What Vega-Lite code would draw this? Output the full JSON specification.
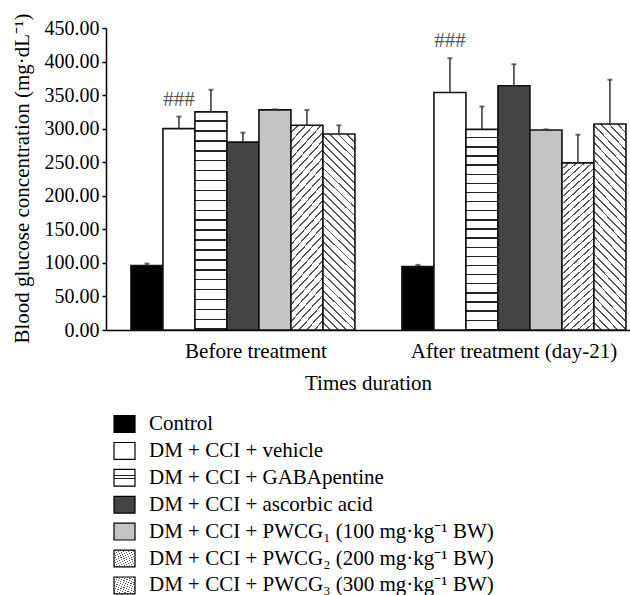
{
  "$schema": "https://vega.github.io/schema/vega-lite/v6.json",
  "width": 524,
  "height": 302,
  "autosize": "none",
  "padding": {"left": 106, "top": 28, "right": 0, "bottom": 265},
  "background": "white",
  "config": {"font": "Liberation Serif", "view": {"stroke": null}},
  "params": [
    {"name": "hstops", "expr": "[{offset:0,color:'#fff'},{offset:0.0386,color:'#fff'},{offset:0.0386,color:'#222'},{offset:0.0455,color:'#222'},{offset:0.0455,color:'#fff'},{offset:0.0841,color:'#fff'},{offset:0.0841,color:'#222'},{offset:0.0909,color:'#222'},{offset:0.0909,color:'#fff'},{offset:0.1295,color:'#fff'},{offset:0.1295,color:'#222'},{offset:0.1364,color:'#222'},{offset:0.1364,color:'#fff'},{offset:0.175,color:'#fff'},{offset:0.175,color:'#222'},{offset:0.1818,color:'#222'},{offset:0.1818,color:'#fff'},{offset:0.2204,color:'#fff'},{offset:0.2204,color:'#222'},{offset:0.2273,color:'#222'},{offset:0.2273,color:'#fff'},{offset:0.2659,color:'#fff'},{offset:0.2659,color:'#222'},{offset:0.2727,color:'#222'},{offset:0.2727,color:'#fff'},{offset:0.3113,color:'#fff'},{offset:0.3113,color:'#222'},{offset:0.3182,color:'#222'},{offset:0.3182,color:'#fff'},{offset:0.3568,color:'#fff'},{offset:0.3568,color:'#222'},{offset:0.3636,color:'#222'},{offset:0.3636,color:'#fff'},{offset:0.4022,color:'#fff'},{offset:0.4022,color:'#222'},{offset:0.4091,color:'#222'},{offset:0.4091,color:'#fff'},{offset:0.4477,color:'#fff'},{offset:0.4477,color:'#222'},{offset:0.4545,color:'#222'},{offset:0.4545,color:'#fff'},{offset:0.4931,color:'#fff'},{offset:0.4931,color:'#222'},{offset:0.5,color:'#222'},{offset:0.5,color:'#fff'},{offset:0.5386,color:'#fff'},{offset:0.5386,color:'#222'},{offset:0.5455,color:'#222'},{offset:0.5455,color:'#fff'},{offset:0.5841,color:'#fff'},{offset:0.5841,color:'#222'},{offset:0.5909,color:'#222'},{offset:0.5909,color:'#fff'},{offset:0.6295,color:'#fff'},{offset:0.6295,color:'#222'},{offset:0.6364,color:'#222'},{offset:0.6364,color:'#fff'},{offset:0.675,color:'#fff'},{offset:0.675,color:'#222'},{offset:0.6818,color:'#222'},{offset:0.6818,color:'#fff'},{offset:0.7204,color:'#fff'},{offset:0.7204,color:'#222'},{offset:0.7273,color:'#222'},{offset:0.7273,color:'#fff'},{offset:0.7659,color:'#fff'},{offset:0.7659,color:'#222'},{offset:0.7727,color:'#222'},{offset:0.7727,color:'#fff'},{offset:0.8113,color:'#fff'},{offset:0.8113,color:'#222'},{offset:0.8182,color:'#222'},{offset:0.8182,color:'#fff'},{offset:0.8568,color:'#fff'},{offset:0.8568,color:'#222'},{offset:0.8636,color:'#222'},{offset:0.8636,color:'#fff'},{offset:0.9022,color:'#fff'},{offset:0.9022,color:'#222'},{offset:0.9091,color:'#222'},{offset:0.9091,color:'#fff'},{offset:0.9477,color:'#fff'},{offset:0.9477,color:'#222'},{offset:0.9545,color:'#222'},{offset:0.9545,color:'#fff'},{offset:0.9931,color:'#fff'},{offset:0.9931,color:'#222'},{offset:1,color:'#222'}]"},
    {"name": "dstops", "expr": "[{offset:0,color:'#fff'},{offset:0.0279,color:'#fff'},{offset:0.0279,color:'#555'},{offset:0.0357,color:'#555'},{offset:0.0357,color:'#fff'},{offset:0.0636,color:'#fff'},{offset:0.0636,color:'#555'},{offset:0.0714,color:'#555'},{offset:0.0714,color:'#fff'},{offset:0.0993,color:'#fff'},{offset:0.0993,color:'#555'},{offset:0.1071,color:'#555'},{offset:0.1071,color:'#fff'},{offset:0.135,color:'#fff'},{offset:0.135,color:'#555'},{offset:0.1429,color:'#555'},{offset:0.1429,color:'#fff'},{offset:0.1707,color:'#fff'},{offset:0.1707,color:'#555'},{offset:0.1786,color:'#555'},{offset:0.1786,color:'#fff'},{offset:0.2064,color:'#fff'},{offset:0.2064,color:'#555'},{offset:0.2143,color:'#555'},{offset:0.2143,color:'#fff'},{offset:0.2421,color:'#fff'},{offset:0.2421,color:'#555'},{offset:0.25,color:'#555'},{offset:0.25,color:'#fff'},{offset:0.2779,color:'#fff'},{offset:0.2779,color:'#555'},{offset:0.2857,color:'#555'},{offset:0.2857,color:'#fff'},{offset:0.3136,color:'#fff'},{offset:0.3136,color:'#555'},{offset:0.3214,color:'#555'},{offset:0.3214,color:'#fff'},{offset:0.3493,color:'#fff'},{offset:0.3493,color:'#555'},{offset:0.3571,color:'#555'},{offset:0.3571,color:'#fff'},{offset:0.385,color:'#fff'},{offset:0.385,color:'#555'},{offset:0.3929,color:'#555'},{offset:0.3929,color:'#fff'},{offset:0.4207,color:'#fff'},{offset:0.4207,color:'#555'},{offset:0.4286,color:'#555'},{offset:0.4286,color:'#fff'},{offset:0.4564,color:'#fff'},{offset:0.4564,color:'#555'},{offset:0.4643,color:'#555'},{offset:0.4643,color:'#fff'},{offset:0.4921,color:'#fff'},{offset:0.4921,color:'#555'},{offset:0.5,color:'#555'},{offset:0.5,color:'#fff'},{offset:0.5279,color:'#fff'},{offset:0.5279,color:'#555'},{offset:0.5357,color:'#555'},{offset:0.5357,color:'#fff'},{offset:0.5636,color:'#fff'},{offset:0.5636,color:'#555'},{offset:0.5714,color:'#555'},{offset:0.5714,color:'#fff'},{offset:0.5993,color:'#fff'},{offset:0.5993,color:'#555'},{offset:0.6071,color:'#555'},{offset:0.6071,color:'#fff'},{offset:0.635,color:'#fff'},{offset:0.635,color:'#555'},{offset:0.6429,color:'#555'},{offset:0.6429,color:'#fff'},{offset:0.6707,color:'#fff'},{offset:0.6707,color:'#555'},{offset:0.6786,color:'#555'},{offset:0.6786,color:'#fff'},{offset:0.7064,color:'#fff'},{offset:0.7064,color:'#555'},{offset:0.7143,color:'#555'},{offset:0.7143,color:'#fff'},{offset:0.7421,color:'#fff'},{offset:0.7421,color:'#555'},{offset:0.75,color:'#555'},{offset:0.75,color:'#fff'},{offset:0.7779,color:'#fff'},{offset:0.7779,color:'#555'},{offset:0.7857,color:'#555'},{offset:0.7857,color:'#fff'},{offset:0.8136,color:'#fff'},{offset:0.8136,color:'#555'},{offset:0.8214,color:'#555'},{offset:0.8214,color:'#fff'},{offset:0.8493,color:'#fff'},{offset:0.8493,color:'#555'},{offset:0.8571,color:'#555'},{offset:0.8571,color:'#fff'},{offset:0.885,color:'#fff'},{offset:0.885,color:'#555'},{offset:0.8929,color:'#555'},{offset:0.8929,color:'#fff'},{offset:0.9207,color:'#fff'},{offset:0.9207,color:'#555'},{offset:0.9286,color:'#555'},{offset:0.9286,color:'#fff'},{offset:0.9564,color:'#fff'},{offset:0.9564,color:'#555'},{offset:0.9643,color:'#555'},{offset:0.9643,color:'#fff'},{offset:0.9921,color:'#fff'},{offset:0.9921,color:'#555'},{offset:1,color:'#555'}]"},
    {"name": "lstops", "expr": "[{offset:0,color:'#fff'},{offset:0.16,color:'#fff'},{offset:0.16,color:'#444'},{offset:0.21,color:'#444'},{offset:0.21,color:'#fff'},{offset:0.36,color:'#fff'},{offset:0.36,color:'#444'},{offset:0.41,color:'#444'},{offset:0.41,color:'#fff'},{offset:0.56,color:'#fff'},{offset:0.56,color:'#444'},{offset:0.61,color:'#444'},{offset:0.61,color:'#fff'},{offset:0.76,color:'#fff'},{offset:0.76,color:'#444'},{offset:0.81,color:'#444'},{offset:0.81,color:'#fff'},{offset:1,color:'#fff'}]"}
  ],
  "data": {
    "values": [
      {"time": "Before treatment", "series": "Control", "value": 96, "upper": 99, "label": ""},
      {"time": "Before treatment", "series": "DM + CCI + vehicle", "value": 300, "upper": 318, "label": "###"},
      {"time": "Before treatment", "series": "DM + CCI + GABApentine", "value": 325, "upper": 358, "label": ""},
      {"time": "Before treatment", "series": "DM + CCI + ascorbic acid", "value": 280, "upper": 294, "label": ""},
      {"time": "Before treatment", "series": "DM + CCI + PWCG₁ (100 mg·kg⁻¹ BW)", "value": 328, "upper": 329, "label": ""},
      {"time": "Before treatment", "series": "DM + CCI + PWCG₂ (200 mg·kg⁻¹ BW)", "value": 305, "upper": 328, "label": ""},
      {"time": "Before treatment", "series": "DM + CCI + PWCG₃ (300 mg·kg⁻¹ BW)", "value": 292, "upper": 305, "label": ""},
      {"time": "After treatment (day-21)", "series": "Control", "value": 94.5, "upper": 97, "label": ""},
      {"time": "After treatment (day-21)", "series": "DM + CCI + vehicle", "value": 354, "upper": 405, "label": "###"},
      {"time": "After treatment (day-21)", "series": "DM + CCI + GABApentine", "value": 299, "upper": 333, "label": ""},
      {"time": "After treatment (day-21)", "series": "DM + CCI + ascorbic acid", "value": 364, "upper": 396, "label": ""},
      {"time": "After treatment (day-21)", "series": "DM + CCI + PWCG₁ (100 mg·kg⁻¹ BW)", "value": 298, "upper": 299, "label": ""},
      {"time": "After treatment (day-21)", "series": "DM + CCI + PWCG₂ (200 mg·kg⁻¹ BW)", "value": 249, "upper": 291, "label": ""},
      {"time": "After treatment (day-21)", "series": "DM + CCI + PWCG₃ (300 mg·kg⁻¹ BW)", "value": 307, "upper": 373, "label": ""}
    ]
  },
  "resolve": {"axis": {"y": "independent"}},
  "encoding": {
    "x": {
      "field": "time",
      "type": "nominal",
      "sort": ["Before treatment", "After treatment (day-21)"],
      "scale": {"paddingInner": 0.1734, "paddingOuter": 0.0535, "align": 0.86},
      "axis": {
        "title": "Times duration",
        "ticks": false,
        "labelAngle": 0,
        "labelFont": "Liberation Serif",
        "labelFontSize": 21,
        "labelColor": "black",
        "labelLimit": 400,
        "labelPadding": 10,
        "labelOffset": {"condition": {"test": "datum.value === 'Before treatment'", "value": 13}, "value": 0},
        "domainColor": "black",
        "domainWidth": 1.5,
        "titleFont": "Liberation Serif",
        "titleFontSize": 21,
        "titleFontWeight": "normal",
        "titleColor": "black",
        "titleBaseline": "alphabetic",
        "titleY": 59
      }
    },
    "xOffset": {
      "field": "series",
      "type": "nominal",
      "sort": ["Control", "DM + CCI + vehicle", "DM + CCI + GABApentine", "DM + CCI + ascorbic acid", "DM + CCI + PWCG₁ (100 mg·kg⁻¹ BW)", "DM + CCI + PWCG₂ (200 mg·kg⁻¹ BW)", "DM + CCI + PWCG₃ (300 mg·kg⁻¹ BW)"],
      "scale": {"paddingInner": 0, "paddingOuter": 0}
    }
  },
  "layer": [
    {
      "mark": {"type": "bar", "stroke": "#111", "strokeWidth": 1.6},
      "encoding": {
        "y": {
          "field": "value",
          "type": "quantitative",
          "scale": {"domain": [0, 450], "nice": false},
          "axis": {
            "title": "Blood glucose concentration (mg·dL⁻¹)",
            "values": [0, 50, 100, 150, 200, 250, 300, 350, 400, 450],
            "format": ".2f",
            "grid": false,
            "labelOverlap": false,
            "labelFont": "Liberation Serif",
            "labelFontSize": 20,
            "labelColor": "black",
            "labelPadding": 3,
            "tickSize": 4,
            "tickColor": "black",
            "tickWidth": 1.5,
            "domainColor": "black",
            "domainWidth": 1.5,
            "titleFont": "Liberation Serif",
            "titleFontSize": 21,
            "titleFontWeight": "normal",
            "titleColor": "black",
            "titleAngle": -90,
            "titleAlign": "left",
            "titleBaseline": "alphabetic",
            "titleX": -78,
            "titleY": 315
          }
        },
        "fill": {
          "field": "series",
          "type": "nominal",
          "scale": {
            "domain": ["Control", "DM + CCI + vehicle", "DM + CCI + GABApentine", "DM + CCI + ascorbic acid", "DM + CCI + PWCG₁ (100 mg·kg⁻¹ BW)", "DM + CCI + PWCG₂ (200 mg·kg⁻¹ BW)", "DM + CCI + PWCG₃ (300 mg·kg⁻¹ BW)"],
            "range": [
              "#000000",
              "#ffffff",
              {"expr": "{gradient:'linear',x1:0,y1:0,x2:0,y2:1,stops:hstops}"},
              "#444444",
              "#c4c4c4",
              {"expr": "{gradient:'linear',x1:0,y1:0,x2:0.196,y2:1.139,stops:dstops}"},
              {"expr": "{gradient:'linear',x1:0,y1:1,x2:0.183,y2:-0.134,stops:dstops}"}
            ]
          },
          "legend": {
            "title": null,
            "orient": "none",
            "legendX": 7,
            "legendY": 384.5,
            "padding": 0,
            "symbolType": "M-1,-0.8H1V0.8H-1Z",
            "symbolSize": 441,
            "symbolStrokeColor": "black",
            "symbolStrokeWidth": 1.2,
            "labelFont": "Liberation Serif",
            "labelFontSize": 21,
            "labelColor": "black",
            "labelOffset": 13,
            "labelLimit": 0,
            "rowPadding": 3.9,
            "encode": {
              "symbols": {
                "update": {
                  "stroke": {"value": "black"},
                  "strokeWidth": {"value": 1.2},
                  "fill": [
                    {"test": "datum.value === 'DM + CCI + GABApentine'", "signal": "{gradient:'linear',x1:0,y1:0,x2:0,y2:1,stops:lstops}"},
                    {"test": "indexof(datum.value, '200') >= 0", "signal": "{gradient:'linear',x1:0,y1:0,x2:1.098,y2:0.878,stops:lstops}"},
                    {"test": "indexof(datum.value, '300') >= 0", "signal": "{gradient:'linear',x1:0,y1:1,x2:1.098,y2:0.122,stops:lstops}"},
                    {"scale": "fill", "field": "value"}
                  ]
                }
              }
            }
          }
        }
      }
    },
    {
      "mark": {"type": "rule", "color": "#333", "strokeWidth": 1.5},
      "encoding": {
        "y": {"field": "value", "type": "quantitative", "axis": null},
        "y2": {"field": "upper"}
      }
    },
    {
      "mark": {"type": "tick", "color": "#333", "thickness": 2, "size": 5},
      "encoding": {
        "y": {"field": "upper", "type": "quantitative", "axis": null}
      }
    },
    {
      "mark": {"type": "text", "baseline": "bottom", "dy": -7, "fontSize": 21, "color": "#555", "font": "Liberation Serif"},
      "encoding": {
        "y": {"field": "upper", "type": "quantitative", "axis": null},
        "text": {"field": "label"}
      }
    }
  ]
}
